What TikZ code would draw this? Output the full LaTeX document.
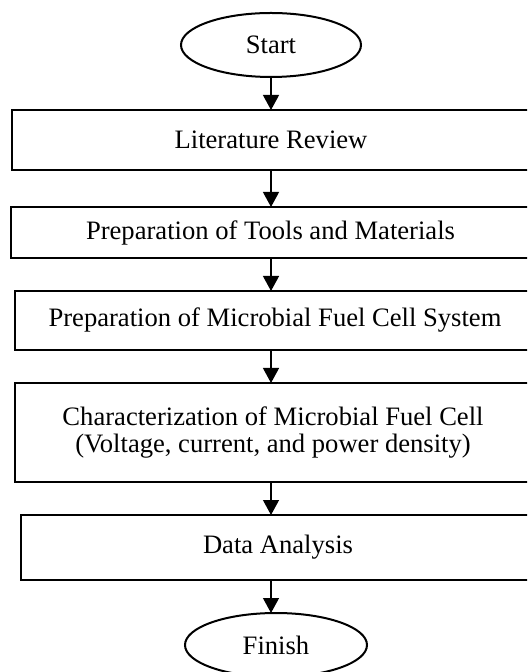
\documentclass[tikz,border=0pt]{standalone}
\usepackage{fontspec}
\setmainfont{Liberation Serif}
\usetikzlibrary{arrows.meta,shapes.geometric}
\begin{document}
\begin{tikzpicture}[x=.5pt,y=-.5pt,
    every node/.style={font=\fontsize{13.3}{13.5}\selectfont,inner sep=0pt,outer sep=0pt},
    terminal/.style={ellipse,draw,line width=1pt,minimum width=90pt,minimum height=32pt},
    stepbox/.style={rectangle,draw,line width=.6pt,align=center},
    arr/.style={-{Triangle[length=7.5pt,width=8pt]},line width=.6pt}]
  \useasboundingbox (0,0) rectangle (527,672);
  \clip (0,0) rectangle (527,672);
  \node[terminal] (start) at (271,45) {Start};
  \node[stepbox,minimum width=259pt,minimum height=30pt] (lit) at (271,140) {Literature Review};
  \node[stepbox,minimum width=259.5pt,minimum height=25.5pt] (tools) at (270.5,232.5) {Preparation of Tools and Materials};
  \node[stepbox,minimum width=260pt,minimum height=29.5pt] (sys) at (275,320.5) {Preparation of Microbial Fuel Cell System};
  \node[stepbox,minimum width=258pt,minimum height=49.5pt] (char) at (273,432.5) {Characterization of Microbial Fuel Cell\\(Voltage, current, and power density)};
  \node[stepbox,minimum width=257pt,minimum height=32.5pt] (data) at (278,547.5) {Data Analysis};
  \node[terminal,minimum width=91pt] (finish) at (276,645) {Finish};
  \foreach \a/\b in {start/lit,lit/tools,tools/sys,sys/char,char/data,data/finish}
    \draw[arr] (\a.south -| start) -- (\b.north -| start);
\end{tikzpicture}
\end{document}
